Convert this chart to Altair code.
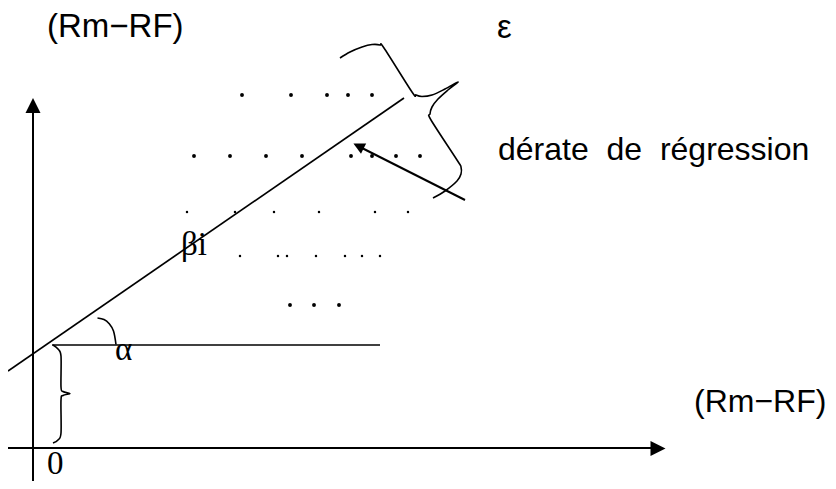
import altair as alt
import pandas as pd

# ---- coordinate frame of the drawing (reference pixel units) ----
X_DOMAIN = [8, 828]
Y_DOMAIN = [8, 481]

# ---- scatter of observations ----
big_dot_x = [242, 291, 327, 348, 372,
             194, 230, 266, 302, 351, 372, 396, 420,
             290, 314, 339]
big_dot_y = [95, 95, 95, 95, 95,
             156, 156, 156, 156, 156, 156, 156, 156,
             305, 305, 305]
small_dot_x = [187, 235, 274, 319, 375, 408,
               240, 278, 287, 316, 345, 362, 380]
small_dot_y = [212, 212, 212, 212, 212, 212,
               256, 256, 256, 256, 256, 256, 256]

# ---- straight segments: y-axis, x-axis, regression line, horizontal, arrow ----
seg_x1 = [33, 7, 8, 52, 465]
seg_y1 = [487, 448, 371, 345, 200]
seg_x2 = [33, 652, 404, 380, 358]
seg_y2 = [110, 448, 98, 345, 146]
seg_w = [2.0, 2.0, 1.7, 1.6, 2.0]

# ---- arrow heads ----
head_x = [33, 658, 358.5]
head_y = [105.5, 448.5, 146]
head_angle = [0, 90, 297]
head_size = [225, 225, 130]

# ---- curves (braces and angle arc) ----
alpha_brace_x = [53, 58, 61, 61, 63, 70, 63, 61, 61, 58, 53]
alpha_brace_y = [345, 349, 356, 387, 391.5, 393.5, 395.5, 400, 433, 440, 443]
eps_brace_x = [340, 350, 362, 372, 380, 384, 412, 416, 422, 432, 445, 458,
               448, 438, 432, 430, 431, 457, 461, 461, 457, 445, 433]
eps_brace_y = [58, 52, 47, 44.5, 45, 48, 92, 95, 96.5, 95, 89, 82,
               90, 99, 107, 114, 120, 160, 167, 174, 181, 191, 198]
arc_x = [97.5, 104, 109, 113.5, 116]
arc_y = [318, 319.5, 323.5, 331, 344.5]

# ---- labels ----
sans_text = ["(Rm\u2212RF)", "\u03b5", "d\u00e9rate\u00a0 de\u00a0 r\u00e9gression", "(Rm\u2212RF)"]
sans_x = [47, 497, 498, 694]
sans_y = [37, 38, 160, 412]
sans_size = [33, 33, 32, 32]
serif_text = ["\u03b2i", "\u03b1", "0"]
serif_x = [181, 115, 47]
serif_y = [255, 360, 473.5]
serif_size = [33, 33, 33]

xs = alt.Scale(domain=X_DOMAIN, nice=False, zero=False)
ys = alt.Scale(domain=Y_DOMAIN, nice=False, zero=False, reverse=True)

dots_big = pd.DataFrame({"x": big_dot_x, "y": big_dot_y})
dots_small = pd.DataFrame({"x": small_dot_x, "y": small_dot_y})
segs = pd.DataFrame({"x": seg_x1, "y": seg_y1, "x2": seg_x2, "y2": seg_y2, "w": seg_w})
heads = pd.DataFrame({"x": head_x, "y": head_y, "a": head_angle, "s": head_size})

curve_rows = []
for cid, (cx, cy) in enumerate([(alpha_brace_x, alpha_brace_y),
                                (eps_brace_x, eps_brace_y),
                                (arc_x, arc_y)]):
    for i, (a, b) in enumerate(zip(cx, cy)):
        curve_rows.append({"id": cid, "o": i, "x": a, "y": b})
curves = pd.DataFrame(curve_rows)

sans = pd.DataFrame({"t": sans_text, "x": sans_x, "y": sans_y, "s": sans_size})
serif = pd.DataFrame({"t": serif_text, "x": serif_x, "y": serif_y, "s": serif_size})

X = lambda: alt.X("x:Q", scale=xs, axis=None)
Y = lambda: alt.Y("y:Q", scale=ys, axis=None)

rules = alt.Chart(segs).mark_rule(color="black").encode(
    x=X(), y=Y(), x2="x2:Q", y2="y2:Q",
    strokeWidth=alt.StrokeWidth("w:Q", scale=None),
)

heads_layer = alt.Chart(heads).mark_point(
    shape="M0,-1L1,1L-1,1Z", filled=True, color="black", opacity=1, strokeWidth=0
).encode(
    x=X(), y=Y(),
    angle=alt.Angle("a:Q", scale=None),
    size=alt.Size("s:Q", scale=None),
)

curve_layer = alt.Chart(curves).mark_line(
    color="black", strokeWidth=1.6, interpolate="cardinal"
).encode(
    x=X(), y=Y(), detail="id:N", order="o:Q",
)

big_layer = alt.Chart(dots_big).mark_circle(color="black", size=15, opacity=1).encode(x=X(), y=Y())
small_layer = alt.Chart(dots_small).mark_circle(color="black", size=6, opacity=1).encode(x=X(), y=Y())

sans_layer = alt.Chart(sans).mark_text(
    font="Liberation Sans", align="left", baseline="alphabetic", color="black"
).encode(x=X(), y=Y(), text="t:N", size=alt.Size("s:Q", scale=None))

serif_layer = alt.Chart(serif).mark_text(
    font="Liberation Serif", align="left", baseline="alphabetic", color="black"
).encode(x=X(), y=Y(), text="t:N", size=alt.Size("s:Q", scale=None))

chart = alt.layer(
    rules, curve_layer, heads_layer, big_layer, small_layer, sans_layer, serif_layer
).properties(
    width=820, height=473,
    autosize=alt.AutoSizeParams(type="none"),
    padding=0,
    background="white",
).configure_view(stroke=None)

chart.save("out.html", embed_options={"renderer": "svg", "actions": False})
